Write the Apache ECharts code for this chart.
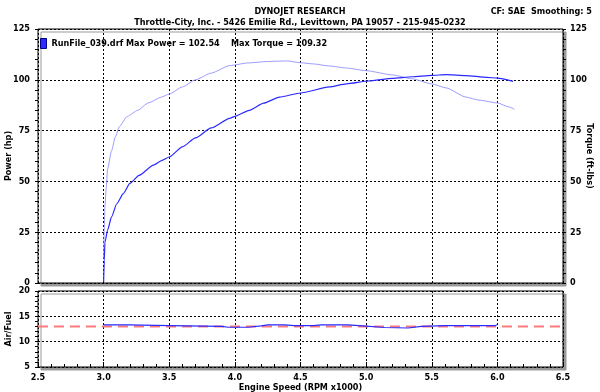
<!DOCTYPE html>
<html>
<head>
<meta charset="utf-8">
<script src="https://cdn.jsdelivr.net/npm/echarts@6/dist/echarts.min.js"></script>
<style>
  html, body { margin: 0; padding: 0; background: #fff; }
  #chart { width: 600px; height: 392px; }
</style>
</head>
<body>
<div id="chart"></div>
<script>
// 数据 (RPM x1000)
const powerRpm = [3.0, 3.005, 3.01, 3.03, 3.06, 3.10, 3.15, 3.20, 3.27, 3.38, 3.45, 3.50, 3.60, 3.70, 3.82, 3.96, 4.00, 4.11, 4.22, 4.34, 4.50, 4.72, 4.85, 5.02, 5.20, 5.35, 5.50, 5.61, 5.76, 5.92, 6.00, 6.12];
const powerHp = [0.5, 11, 20, 26, 32.5, 39, 44, 49, 53, 58, 60.5, 62, 67, 71.4, 76.3, 81, 82, 85, 88.5, 91.5, 93.5, 96.5, 98, 99.4, 100.7, 101.5, 102.2, 102.5, 102.1, 101.2, 100.8, 99.2];

const torqueRpm = [3.0, 3.005, 3.01, 3.02, 3.03, 3.06, 3.09, 3.12, 3.18, 3.26, 3.34, 3.44, 3.50, 3.60, 3.70, 3.82, 3.96, 4.10, 4.25, 4.40, 4.50, 4.60, 4.72, 4.85, 5.00, 5.20, 5.35, 5.50, 5.61, 5.76, 5.86, 6.00, 6.09, 6.13];
const torqueFt = [12, 26, 38, 47, 56, 65, 72, 77, 82, 85, 88.6, 91.5, 93, 96.5, 100, 103.3, 107, 108.3, 109, 109.3, 108.4, 107.8, 106.8, 105.8, 104.5, 102.4, 100.5, 98, 96, 91.5, 90, 88.6, 86.6, 85.5];

const afrRpm = [3.0, 3.19, 3.20, 3.50, 3.90, 3.95, 4.10, 4.20, 4.25, 4.38, 4.45, 4.60, 4.66, 4.86, 5.00, 5.14, 5.32, 5.42, 5.60, 5.98, 6.00];
const afrVals = [13.3, 13.3, 13.15, 13.15, 13.0, 12.85, 12.85, 13.1, 13.3, 13.3, 13.15, 13.15, 13.3, 13.3, 13.05, 12.8, 12.7, 13.0, 13.15, 13.15, 13.35];

const targetRpm = [2.5, 6.5];
const targetAfr = [13.0, 13.0];

const pair = (xs, ys) => xs.map((x, i) => [x, ys[i]]);

const FONT = "DejaVu Sans Condensed";
const txt = { fontFamily: FONT, fontWeight: "bold", fontSize: 9, color: "#000" };
const dotted = { color: "#000", width: 1, type: [2, 2] };

const frame = {
  show: true,
  left: 38,
  right: 37,
  containLabel: false,
  outerBoundsMode: "none",
  backgroundColor: "#fff",
  borderColor: "#000",
  borderWidth: 1,
  shadowColor: "#999",
  shadowBlur: 0,
  shadowOffsetX: 3,
  shadowOffsetY: 3,
};

const myChart = echarts.init(document.getElementById("chart"));

myChart.setOption({
  animation: false,
  backgroundColor: "#fff",
  textStyle: { fontFamily: FONT },
  title: [
    { text: "DYNOJET RESEARCH", left: "center", top: 2, textStyle: txt },
    { text: "Throttle-City, Inc. - 5426 Emilie Rd., Levittown, PA 19057 - 215-945-0232", left: "center", top: 13, textStyle: txt },
    { text: "CF: SAE  Smoothing: 5", right: 3, top: 2, textStyle: txt },
  ],
  legend: {
    left: 40,
    top: 38,
    data: ["RunFile_039.drf"],
    icon: "rect",
    itemWidth: 6,
    itemHeight: 10,
    itemGap: 2,
    padding: 0,
    textStyle: txt,
    itemStyle: { color: "#2a2aff", borderColor: "#000080", borderWidth: 1 },
    formatter: (n) => n + " Max Power = 102.54    Max Torque = 109.32",
  },
  grid: [
    Object.assign({}, frame, { top: 29, height: 254 }),
    Object.assign({}, frame, { top: 291, height: 76 }),
  ],
  xAxis: [
    {
      gridIndex: 0, type: "value", min: 2.5, max: 6.5, interval: 0.5,
      axisLine: { show: false }, axisTick: { show: false }, axisLabel: { show: false },
      splitLine: { show: true, lineStyle: dotted },
    },
    {
      gridIndex: 1, type: "value", min: 2.5, max: 6.5, interval: 0.5,
      axisLine: { show: false },
      axisTick: { show: true, inside: true, length: 5, lineStyle: { color: "#000" } },
      minorTick: { show: true, splitNumber: 5, length: 3, lineStyle: { color: "#000" } },
      axisLabel: Object.assign({}, txt, { margin: 6, formatter: (v) => v.toFixed(1) }),
      splitLine: { show: true, lineStyle: dotted },
      name: "Engine Speed (RPM x1000)",
      nameLocation: "middle",
      nameGap: 16,
      nameMoveOverlap: false,
      nameTextStyle: txt,
    },
  ],
  yAxis: [
    {
      gridIndex: 0, type: "value", min: 0, max: 125, interval: 25,
      axisLine: { show: false },
      axisTick: { show: true, length: 3, lineStyle: { color: "#000" } },
      minorTick: { show: true, splitNumber: 5, length: 3, lineStyle: { color: "#000" } },
      axisLabel: Object.assign({}, txt, { margin: 8 }),
      splitLine: { show: true, lineStyle: dotted },
      name: "Power (hp)", nameLocation: "middle", nameGap: 25, nameMoveOverlap: false, nameTextStyle: txt,
    },
    {
      gridIndex: 0, type: "value", min: 0, max: 125, interval: 25, position: "right",
      axisLine: { show: false },
      axisTick: { show: true, length: 3, lineStyle: { color: "#000" } },
      minorTick: { show: true, splitNumber: 5, length: 3, lineStyle: { color: "#000" } },
      axisLabel: Object.assign({}, txt, { margin: 7 }),
      splitLine: { show: false },
      name: "Torque (ft-lbs)", nameLocation: "middle", nameGap: 22, nameRotate: -90, nameMoveOverlap: false, nameTextStyle: txt,
    },
    {
      gridIndex: 1, type: "value", min: 5, max: 20, interval: 5,
      axisLine: { show: false },
      axisTick: { show: true, length: 3, lineStyle: { color: "#000" } },
      minorTick: { show: true, splitNumber: 5, length: 3, lineStyle: { color: "#000" } },
      axisLabel: Object.assign({}, txt, { margin: 8 }),
      splitLine: { show: true, lineStyle: dotted },
      name: "Air/Fuel", nameLocation: "middle", nameGap: 25, nameMoveOverlap: false, nameTextStyle: txt,
    },
  ],
  series: [
    {
      name: "Torque", type: "line", xAxisIndex: 0, yAxisIndex: 1,
      data: pair(torqueRpm, torqueFt), showSymbol: false, smooth: 0.2, smoothMonotone: "x",
      lineStyle: { color: "#9c9cff", width: 1 }, itemStyle: { color: "#9c9cff" },
    },
    {
      name: "RunFile_039.drf", type: "line", xAxisIndex: 0, yAxisIndex: 0,
      data: pair(powerRpm, powerHp), showSymbol: false, smooth: 0.2, smoothMonotone: "x",
      lineStyle: { color: "#2a2aff", width: 1.2 }, itemStyle: { color: "#2a2aff" },
    },
    {
      name: "Target", type: "line", xAxisIndex: 1, yAxisIndex: 2,
      data: pair(targetRpm, targetAfr), showSymbol: false,
      lineStyle: { color: "#ff7b7b", width: 2, type: [10, 6] },
    },
    {
      name: "AFR", type: "line", xAxisIndex: 1, yAxisIndex: 2,
      data: pair(afrRpm, afrVals), showSymbol: false,
      lineStyle: { color: "#2a2aff", width: 1.2 },
    },
  ],
});
</script>
</body>
</html>
